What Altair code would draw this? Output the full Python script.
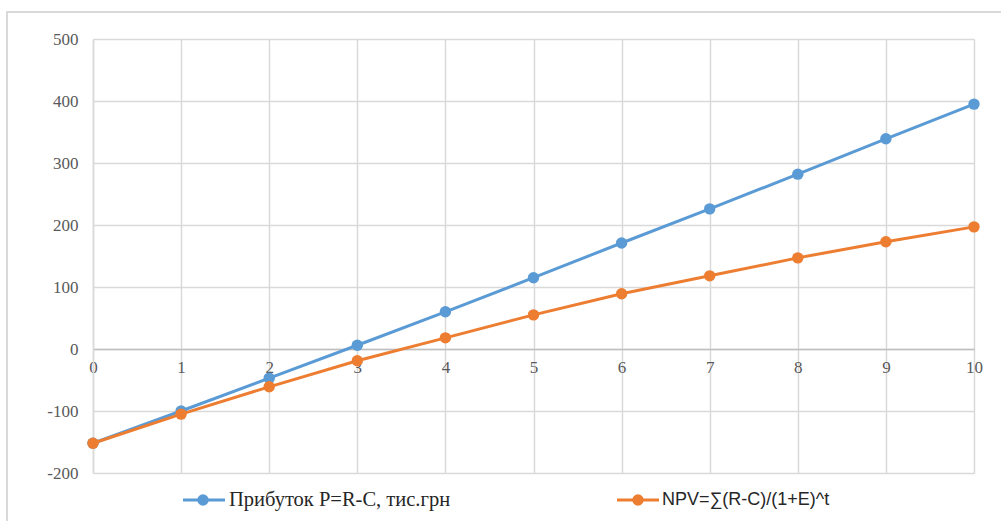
import altair as alt
import pandas as pd

# Project years and cumulative results, thousand UAH
years = [0, 1, 2, 3, 4, 5, 6, 7, 8, 9, 10]
profit = [-152, -100, -47, 6, 60, 115, 171, 226, 282, 339, 395]
npv = [-152, -105, -61, -19, 18, 55, 89, 118, 147, 173, 197]

series_profit = "Прибуток P=R-C, тис.грн"
series_npv = "NPV=∑(R-C)/(1+E)^t"
blue = "#5B9BD5"
orange = "#ED7D31"

df_profit = pd.DataFrame({"t": years, "v": profit})
df_npv = pd.DataFrame({"t": years, "v": npv})

W, H = 881, 434

x = alt.X("t:Q", scale=alt.Scale(domain=[0, 10], nice=False),
          axis=alt.Axis(values=years, title=None, orient="bottom", offset=-124,
                        labelFont="Liberation Serif", labelFontSize=17,
                        labelColor="#595959", labelPadding=10, ticks=False,
                        domainColor="#BFBFBF", domainWidth=1.5,
                        gridColor="#D9D9D9", gridWidth=1.5, labelFlush=False))
y = alt.Y("v:Q", scale=alt.Scale(domain=[-200, 500], nice=False),
          axis=alt.Axis(values=list(range(-200, 501, 100)), title=None,
                        labelExpr="'' + datum.value",
                        labelFont="Liberation Serif", labelFontSize=17,
                        labelColor="#595959", labelPadding=15, ticks=False,
                        domainColor="#D9D9D9", domainWidth=1.5,
                        gridColor="#D9D9D9", gridWidth=1.5))


def series(df, col):
    base = alt.Chart(df).encode(x=x, y=y)
    return (base.mark_line(strokeWidth=3, color=col)
            + base.mark_point(filled=True, size=130, opacity=1, color=col))


# outer frame of the chart object
one = pd.DataFrame({"k": [0]})
frame = alt.Chart(one).mark_rect(fill=None, stroke="#D9D9D9", strokeWidth=2).encode(
    x=alt.value(-86), x2=alt.value(W + 60), y=alt.value(-27), y2=alt.value(H + 80))

# legend drawn beneath the plot
leg_y = 461
leg_profit_line = alt.Chart(one).mark_rule(color=blue, strokeWidth=3).encode(
    x=alt.value(90), x2=alt.value(132), y=alt.value(leg_y))
leg_profit_pt = alt.Chart(one).mark_point(filled=True, color=blue, size=130, opacity=1).encode(
    x=alt.value(110), y=alt.value(leg_y))
leg_profit_txt = alt.Chart(one).mark_text(
    text=series_profit, align="left", baseline="middle", font="Liberation Serif",
    fontSize=20.5, color="#262626").encode(x=alt.value(136), y=alt.value(leg_y))
leg_npv_line = alt.Chart(one).mark_rule(color=orange, strokeWidth=3).encode(
    x=alt.value(524), x2=alt.value(566), y=alt.value(leg_y))
leg_npv_pt = alt.Chart(one).mark_point(filled=True, color=orange, size=130, opacity=1).encode(
    x=alt.value(545), y=alt.value(leg_y))
leg_npv_txt = alt.Chart(one).mark_text(
    text=series_npv, align="left", baseline="middle", font="Liberation Sans",
    fontSize=18, color="#262626").encode(x=alt.value(569), y=alt.value(leg_y))

chart = alt.layer(
    frame, series(df_profit, blue), series(df_npv, orange),
    leg_profit_line, leg_profit_pt, leg_profit_txt,
    leg_npv_line, leg_npv_pt, leg_npv_txt,
).properties(
    width=W, height=H,
    autosize=alt.AutoSizeParams(type="none"),
    padding={"left": 93, "top": 39, "right": 27, "bottom": 48},
    background="white",
).configure_view(stroke=None).configure_axis(labelFont="Liberation Serif")

chart.save("out.html", embed_options={"renderer": "svg", "actions": False})
